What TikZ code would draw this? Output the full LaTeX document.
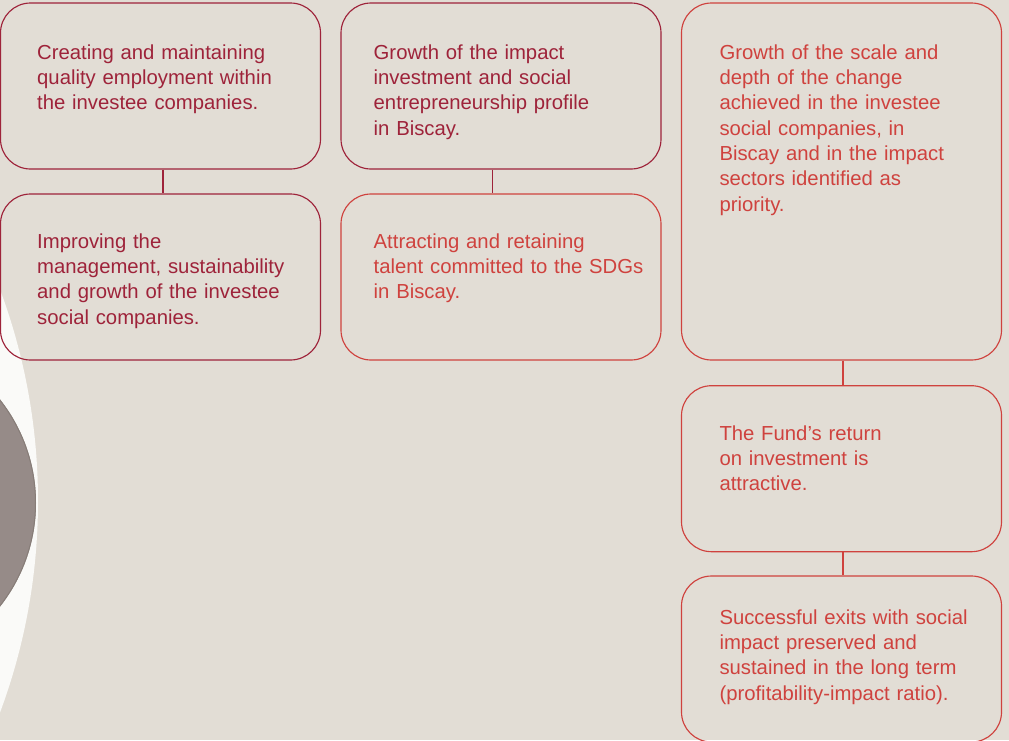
\documentclass[tikz,border=0pt]{standalone}
\usepackage{fontspec}
\setmainfont{Liberation Sans}
\definecolor{paper}{RGB}{226,221,213}
\definecolor{wine}{RGB}{158,35,58}
\definecolor{coral}{RGB}{207,66,62}
\definecolor{stone}{RGB}{150,139,136}
\definecolor{stoneedge}{RGB}{135,125,120}
\definecolor{chalk}{RGB}{250,250,248}
\begin{document}
\begin{tikzpicture}[x=1pt,y=-1pt,
  goalbox/.style={draw, rounded corners=30pt, line width=1.15pt,
    minimum width=320pt, minimum height=166pt, inner sep=0pt},
  tallbox/.style={goalbox, minimum height=357pt},
  goaltext/.style={anchor=base west, inner sep=0pt, text width=300pt,
    align=left, font=\fontsize{20.3}{25.3}\selectfont},
  link/.style={line width=1.15pt}]
  \useasboundingbox (0,0) rectangle (1009,740);
  \clip (0,0) rectangle (1009,740);
  \fill[paper] (0,0) rectangle (1009,740);
  % decorative discs on the left margin
  \fill[chalk] (-567,501) circle[radius=605pt];
  \fill[stone] (-131,503) circle[radius=167pt];
  \draw[stoneedge, line width=1pt] (-131,503) circle[radius=166.5pt];

  % first column
  \node[goalbox, wine] (A) at (160.5,86) {};
  \node[goalbox, wine] (B) at (160.5,277) {};
  \node[goaltext, text=wine] (tA) at (37,59.3)
    {Creating and maintaining\\quality employment within\\the investee companies.};
  \node[goaltext, text=wine] (tB) at (37,248.3)
    {Improving the\\management, sustainability\\and growth of the investee\\social companies.};
  \draw[link, wine] ([xshift=2.5pt]A.south) -- ([xshift=2.5pt]B.north);

  % second column
  \node[goalbox, wine] (C) at (501,86) {};
  \node[goalbox, coral] (D) at (501,277) {};
  \node[goaltext, text=wine] (tC) at (373.5,59.3)
    {Growth of the impact\\investment and social\\entrepreneurship profile\\in Biscay.};
  \node[goaltext, text=coral] (tD) at (373.5,248.3)
    {Attracting and retaining\\talent committed to the SDGs\\in Biscay.};
  \draw[link, wine] ([xshift=-8.5pt]C.south) -- ([xshift=-8.5pt]D.north);

  % third column
  \node[tallbox, coral] (E) at (841.5,181.5) {};
  \node[goalbox, coral] (F) at (841.5,468.7) {};
  \node[goalbox, coral] (G) at (841.5,659) {};
  \node[goaltext, text=coral] (tE) at (719.3,59.3)
    {Growth of the scale and\\depth of the change\\achieved in the investee\\social companies, in\\Biscay and in the impact\\sectors identified as\\priority.};
  \node[goaltext, text=coral] (tF) at (719.3,440)
    {The Fund’s return\\on investment is\\attractive.};
  \node[goaltext, text=coral] (tG) at (719.3,624.3)
    {Successful exits with social\\impact preserved and\\sustained in the long term\\(profitability-impact ratio).};
  \draw[link, coral] ([xshift=1.5pt]E.south) -- ([xshift=1.5pt]F.north);
  \draw[link, coral] ([xshift=1.5pt]F.south) -- ([xshift=1.5pt]G.north);
\end{tikzpicture}
\end{document}
